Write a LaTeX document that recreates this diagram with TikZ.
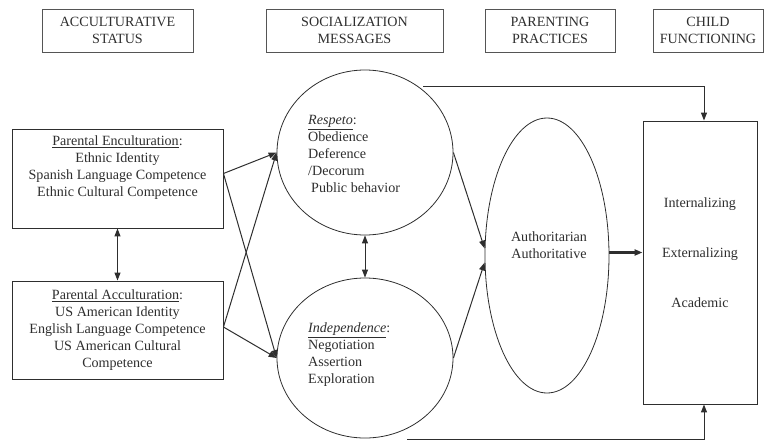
\documentclass[tikz,border=0pt]{standalone}
\usepackage{fontspec}
\setmainfont{Liberation Serif}
\usetikzlibrary{arrows.meta,shapes.geometric,calc}
\definecolor{pathgrey}{HTML}{2E2E2E}
\definecolor{framegrey}{HTML}{555555}
\tikzset{
  >={Triangle[length=8pt,width=6pt]},
  font=\fontsize{14.1}{17}\selectfont,
  hdr/.style={draw=framegrey,line width=0.9pt,minimum height=43pt,inner sep=0pt,
              align=center,text=pathgrey},
  cbox/.style={draw=pathgrey,line width=0.9pt,inner sep=0pt,align=center,text=pathgrey},
  construct/.style={draw=pathgrey,line width=0.8pt,ellipse,inner sep=0pt},
  txt/.style={text=pathgrey,inner sep=0pt,align=left},
  link/.style={->,line width=1pt,draw=pathgrey},
  bilink/.style={<->,line width=1pt,draw=pathgrey},
  boldlink/.style={->,line width=2.4pt,draw=pathgrey},
}

\begin{document}
\begin{tikzpicture}[x=1pt,y=-1pt]
  \useasboundingbox (0,0) rectangle (764,445);

  % column headers
  \node[hdr,minimum width=151pt] (hAcc) at (117.5,30.5) {ACCULTURATIVE\\STATUS};
  \node[hdr,minimum width=177pt] (hSoc) at (354.5,30.5) {SOCIALIZATION\\MESSAGES};
  \node[hdr,minimum width=130pt] (hPar) at (550,30.5) {PARENTING\\PRACTICES};
  \node[hdr,minimum width=110pt] (hChild) at (708,30.5) {CHILD\\FUNCTIONING};

  % acculturative status
  \node[cbox,minimum width=211pt,minimum height=99pt] (enc) at (117.5,178.5) {};
  \node[txt,align=center] (encTxt) at (117.5,168)
    {\underline{Parental Enculturation}:\\Ethnic Identity\\Spanish Language Competence\\Ethnic Cultural Competence};
  \node[cbox,minimum width=211pt,minimum height=98pt] (acc) at (117.5,330)
    {\underline{Parental Acculturation}:\\US American Identity\\English Language Competence\\US American Cultural\\Competence};

  % socialization messages
  \node[construct,minimum width=176pt,minimum height=165pt] (resp) at (365,152.5) {};
  \node[txt,anchor=west] (respTxt) at (308,154)
    {\underline{\textit{Respeto}}:\\Obedience\\Deference\\/Decorum\\\hspace*{3pt}Public behavior};
  \node[construct,minimum width=176pt,minimum height=160pt] (ind) at (365,358) {};
  \node[txt,anchor=west] (indTxt) at (308,354.5)
    {\underline{\textit{Independence}}:\\Negotiation\\Assertion\\Exploration};

  % parenting practices
  \node[construct,minimum width=124pt,minimum height=275pt] (auth) at (547,255.5) {};
  \node[txt,align=center] (authTxt) at (549,245) {Authoritarian\\Authoritative};

  % child functioning
  \node[cbox,minimum width=114pt,minimum height=283pt] (child) at (700,262.5) {};
  \node[txt,align=center] (childTxt) at (700,252.5)
    {Internalizing\\[33pt]Externalizing\\[33pt]Academic};

  \coordinate (topStart) at (423,86);
  \coordinate (botStart) at (407,439);

  \draw[bilink] (enc.south) -- (acc.north);
  \draw[bilink] (resp.south) -- (ind.north);
  \draw[link] ($(enc.east)+(0,-5)$) -- (resp.west);
  \draw[link] ($(enc.east)+(0,-5)$) -- (ind.west);
  \draw[link] ($(acc.east)+(0,-3)$) -- (resp.west);
  \draw[link] ($(acc.east)+(0,-3)$) -- (ind.west);
  \draw[link] (resp.east) -- ($(auth.west)+(0,-7)$);
  \draw[link] (ind.east) -- ($(auth.west)+(0,7)$);
  \draw[boldlink] ($(auth.east)+(0,-3)$) -- ($(child.west)+(0,-10)$);
  \draw[link] (topStart) -| ($(child.north)+(4,0)$);
  \draw[link] (botStart) -| ($(child.south)+(4,0)$);
\end{tikzpicture}
\end{document}
